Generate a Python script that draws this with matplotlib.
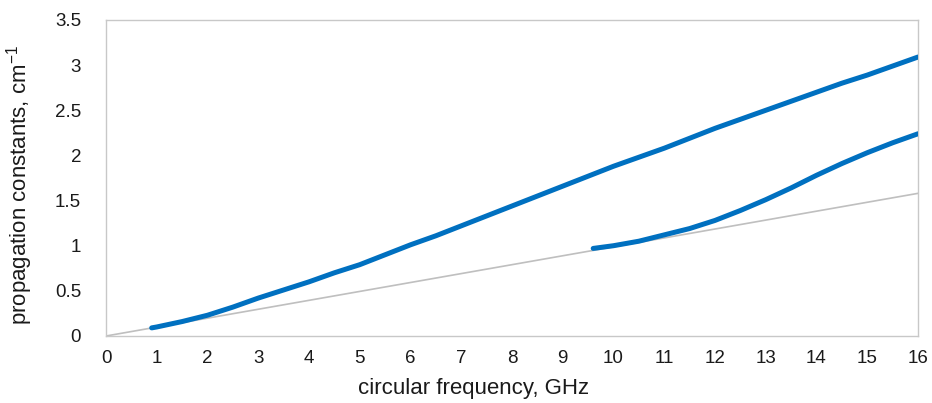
import matplotlib
matplotlib.use("Agg")
import matplotlib.pyplot as plt

plt.rcParams['font.family'] = ['Liberation Sans', 'DejaVu Sans']
plt.rcParams['mathtext.fontset'] = 'custom'
plt.rcParams['mathtext.rm'] = 'Liberation Sans'
plt.rcParams['mathtext.it'] = 'Liberation Sans'

# Upper mode
freq1 = [0.9, 1.0, 1.5, 2.0, 2.5, 3.0, 3.5, 4.0, 4.5, 5.0, 5.5, 6.0, 6.5, 7.0, 7.5, 8.0,
         8.5, 9.0, 9.5, 10.0, 10.5, 11.0, 11.5, 12.0, 12.5, 13.0, 13.5, 14.0, 14.5,
         15.0, 15.5, 16.0]
beta1 = [0.09, 0.10, 0.16, 0.23, 0.32, 0.42, 0.51, 0.60, 0.70, 0.79, 0.90, 1.01, 1.11,
         1.22, 1.33, 1.44, 1.55, 1.66, 1.77, 1.88, 1.98, 2.08, 2.19, 2.30, 2.40, 2.50,
         2.60, 2.70, 2.80, 2.89, 2.99, 3.09]

# Lower mode
freq2 = [9.6, 10.0, 10.5, 11.0, 11.5, 12.0, 12.5, 13.0, 13.5, 14.0, 14.5, 15.0, 15.5, 16.0]
beta2 = [0.97, 1.00, 1.05, 1.12, 1.19, 1.28, 1.39, 1.51, 1.64, 1.78, 1.91, 2.03, 2.14, 2.24]

# Light line
freq_light = [0.0, 16.0]
beta_light = [0.0, 1.58]

xticks = list(range(0, 17))
yticks = [0, 0.5, 1, 1.5, 2, 2.5, 3, 3.5]
yticklabels = ['0', '0.5', '1', '1.5', '2', '2.5', '3', '3.5']

fig = plt.figure(figsize=(9.32, 4.03), dpi=100)
ax = fig.add_axes([106/932, (403-336)/403, (918-106)/932, (336-20)/403])

ax.plot(freq_light, beta_light, color='#BFBFBF', lw=1.2, zorder=2)
ax.plot(freq1, beta1, color='#0070C0', lw=3.6, solid_capstyle='round', zorder=3)
ax.plot(freq2, beta2, color='#0070C0', lw=3.6, solid_capstyle='round', zorder=3)

ax.set_xlim(0, 16)
ax.set_ylim(0, 3.5)
ax.set_xticks(xticks)
ax.set_yticks(yticks)
ax.set_yticklabels(yticklabels)
ax.tick_params(length=0, labelsize=13.5, colors='#1a1a1a')
ax.tick_params(axis='x', pad=10)
ax.tick_params(axis='y', pad=18)
for s in ax.spines.values():
    s.set_color('#C8C8C8')
    s.set_linewidth(1.0)

ax.set_xlabel('circular frequency, GHz', fontsize=16, color='#1a1a1a')
ax.xaxis.set_label_coords(0.453, -0.132)
ax.set_ylabel('propagation constants, cm$^{-1}$', fontsize=16, color='#1a1a1a')
ax.yaxis.set_label_coords(-0.088, 0.478)

fig.savefig('out.png', dpi=100)
